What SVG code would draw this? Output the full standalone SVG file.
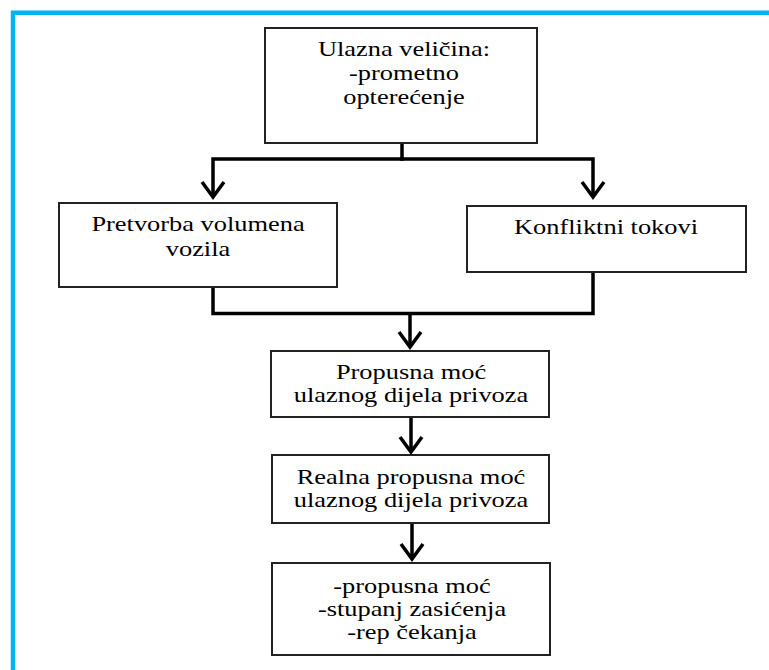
<svg xmlns="http://www.w3.org/2000/svg" width="769" height="670" viewBox="0 0 769 670">
<style>
.box{fill:#fff;stroke:#222;stroke-width:2}
.lbl{font-family:"Liberation Serif","Times New Roman",serif;font-size:22px;fill:#000;text-anchor:middle}
.con{fill:none;stroke:#000;stroke-width:3.5}
</style>
<defs>
<marker id="arr" markerUnits="userSpaceOnUse" markerWidth="40" markerHeight="40" viewBox="-20 -20 40 40" refX="0" refY="0" orient="auto" overflow="visible">
<path d="M -15 -11 L 0 0 L -15 11" fill="none" stroke="#000" stroke-width="3.5"/>
</marker>
</defs>
<rect width="769" height="670" fill="#fff"/>
<path d="M 13 670 V 12.7 H 769" fill="none" stroke="#00B4EE" stroke-width="4.5"/>
<g id="connectors">
<path class="con" d="M 402 143 V 159"/>
<path class="con" d="M 404 159 H 213 V 197" marker-end="url(#arr)"/>
<path class="con" d="M 400 159 H 593 V 197" marker-end="url(#arr)"/>
<path class="con" d="M 213 287 V 313.5 H 593 V 272"/>
<path class="con" d="M 410 313.5 V 347" marker-end="url(#arr)"/>
<path class="con" d="M 411 417 V 452" marker-end="url(#arr)"/>
<path class="con" d="M 412 523 V 559" marker-end="url(#arr)"/>
</g>
<g id="n-ulazna">
<rect class="box" x="265" y="28" width="272" height="115"/>
<text class="lbl" transform="translate(404 56) scale(1.2 1)"><tspan x="0" y="0">Ulazna veličina:</tspan><tspan x="0" y="24.5">-prometno</tspan><tspan x="0" y="48">opterećenje</tspan></text>
</g>
<g id="n-pretvorba">
<rect class="box" x="59" y="203" width="278" height="84"/>
<text class="lbl" transform="translate(198 231) scale(1.2 1)"><tspan x="0" y="0">Pretvorba volumena</tspan><tspan x="0" y="25">vozila</tspan></text>
</g>
<g id="n-konfliktni">
<rect class="box" x="467" y="206" width="279" height="66"/>
<text class="lbl" transform="translate(606 234) scale(1.2 1)">Konfliktni tokovi</text>
</g>
<g id="n-propusna">
<rect class="box" x="271" y="351" width="278" height="66"/>
<text class="lbl" transform="translate(411 379) scale(1.2 1)"><tspan x="0" y="0">Propusna moć</tspan><tspan x="0" y="23">ulaznog dijela privoza</tspan></text>
</g>
<g id="n-realna">
<rect class="box" x="272" y="455" width="277" height="68"/>
<text class="lbl" transform="translate(411 484) scale(1.2 1)"><tspan x="0" y="0">Realna propusna moć</tspan><tspan x="0" y="23">ulaznog dijela privoza</tspan></text>
</g>
<g id="n-izlaz">
<rect class="box" x="272" y="563" width="278" height="92"/>
<text class="lbl" transform="translate(412 593) scale(1.2 1)"><tspan x="0" y="0">-propusna moć</tspan><tspan x="0" y="23">-stupanj zasićenja</tspan><tspan x="0" y="46">-rep čekanja</tspan></text>
</g>
</svg>
